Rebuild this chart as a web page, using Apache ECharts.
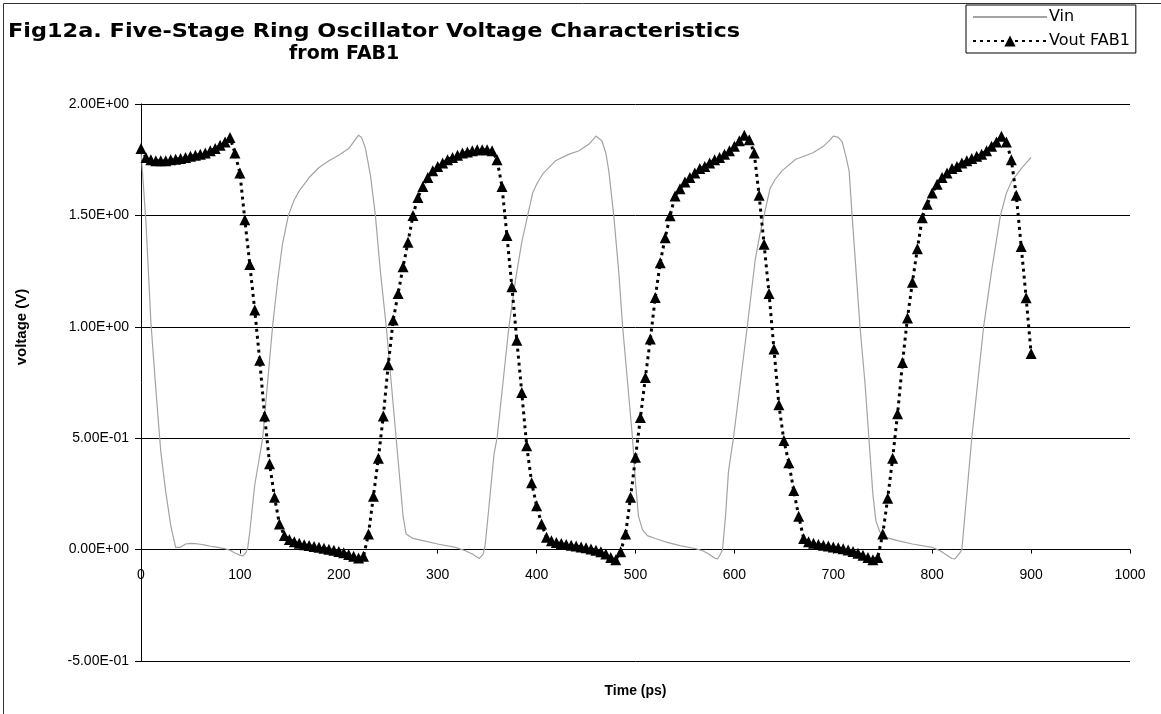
<!DOCTYPE html>
<html>
<head>
<meta charset="utf-8">
<title>Fig12a. Five-Stage Ring Oscillator Voltage Characteristics from FAB1</title>
<script src="https://cdn.jsdelivr.net/npm/echarts@6/dist/echarts.min.js"></script>
<style>
  html, body { margin: 0; padding: 0; background: #fff; }
  #chart { width: 1161px; height: 714px; }
</style>
</head>
<body>
<div id="chart"></div>
<script>
// Vin: simulated input waveform, time (ps) and voltage (V)
const vinTime = [0,5,10,15,20,25,30,35,40,45,50,55,60,65,70,75,80,85,90,95,
  100,103,106,108,110,115,120,123,128,133,138,143,149,155,160,170,180,190,200,210,
  215,220,223,227,232,237,242,248,253,258,262,265,268,275,285,300,318,328,335,342,
  346,348,352,357,360,366,372,379,385,391,396,400,406,419,433,443,453,460,466,470,
  473,478,483,487,492,497,500,503,507,512,520,530,545,560,568,574,580,583,586,588,
  591,594,599,606,613,621,626,630,636,641,648,662,679,690,697,700,705,709,713,716,
  719,723,727,732,736,740,743,747,753,765,780,800,808,813,820,823,827,830,834,840,
  846,852,860,869,875,880,890,900];
const vinVolt = [1.79,1.47,1.02,0.72,0.44,0.26,0.11,0.01,0.01,0.025,
  0.028,0.027,0.024,0.02,0.015,0.012,0.008,0.004,-0.003,-0.015,
  -0.025,-0.028,-0.015,0.01,0.08,0.29,0.42,0.5,0.75,1.0,
  1.2,1.37,1.5,1.57,1.61,1.67,1.715,1.745,1.77,1.80,
  1.83,1.86,1.85,1.80,1.68,1.5,1.25,1.0,0.75,0.5,
  0.3,0.15,0.07,0.05,0.04,0.025,0.01,-0.005,-0.02,-0.04,
  -0.02,0.02,0.2,0.43,0.5,0.75,1.0,1.22,1.38,1.5,
  1.6,1.64,1.685,1.745,1.775,1.79,1.82,1.856,1.835,1.78,
  1.70,1.5,1.25,1.0,0.75,0.5,0.3,0.15,0.09,0.063,
  0.05,0.035,0.018,0.005,-0.005,-0.02,-0.038,-0.042,-0.02,0.0,
  0.15,0.35,0.5,0.75,1.0,1.3,1.42,1.5,1.62,1.66,
  1.70,1.752,1.78,1.81,1.84,1.856,1.85,1.83,1.76,1.70,
  1.5,1.25,1.0,0.75,0.5,0.25,0.13,0.08,0.055,0.04,
  0.025,0.01,-0.005,-0.02,-0.04,-0.042,-0.02,0.0,0.2,0.5,
  0.75,1.0,1.25,1.5,1.6,1.65,1.71,1.76];

// Vout FAB1: output sampled every 5 ps from 0 to 900 ps
const voutStep = 5;
const voutVolt = [
  1.80, 1.76, 1.75, 1.745, 1.745, 1.745, 1.75, 1.752, 1.755, 1.76,
  1.765, 1.77, 1.775, 1.78, 1.79, 1.80, 1.815, 1.83, 1.85, 1.78,
  1.69, 1.48, 1.28, 1.075, 0.85, 0.60, 0.385, 0.235, 0.115, 0.063,
  0.045, 0.035, 0.028, 0.022, 0.018, 0.014, 0.010, 0.006, 0.002, -0.003,
  -0.008, -0.014, -0.022, -0.030, -0.038, -0.030, 0.07, 0.24, 0.41, 0.60,
  0.83, 1.03, 1.15, 1.27, 1.38, 1.50, 1.58, 1.63, 1.67, 1.70,
  1.72, 1.735, 1.75, 1.76, 1.77, 1.78, 1.785, 1.79, 1.795, 1.795,
  1.795, 1.79, 1.75, 1.63, 1.41, 1.18, 0.94, 0.705, 0.466, 0.30,
  0.197, 0.115, 0.055, 0.040, 0.032, 0.027, 0.023, 0.020, 0.016, 0.012,
  0.008, 0.003, -0.003, -0.010, -0.020, -0.035, -0.045, -0.010, 0.07, 0.235,
  0.414, 0.593, 0.773, 0.945, 1.131, 1.288, 1.40, 1.498, 1.587, 1.62,
  1.65, 1.67, 1.69, 1.71, 1.72, 1.735, 1.75, 1.76, 1.775, 1.79,
  1.81, 1.835, 1.86, 1.84, 1.78, 1.59, 1.37, 1.15, 0.90, 0.65,
  0.49, 0.39, 0.265, 0.15, 0.05, 0.035, 0.028, 0.023, 0.020, 0.016,
  0.012, 0.008, 0.004, -0.002, -0.008, -0.016, -0.025, -0.035, -0.045, -0.035,
  0.07, 0.23, 0.41, 0.61, 0.84, 1.04, 1.20, 1.35, 1.49, 1.55,
  1.60, 1.64, 1.67, 1.69, 1.71, 1.72, 1.735, 1.745, 1.755, 1.765,
  1.775, 1.79, 1.81, 1.83, 1.855, 1.83, 1.75, 1.59, 1.36, 1.13,
  0.88
];

// Axis ticks and their printed labels
const yTicks = [-0.5, 0, 0.5, 1.0, 1.5, 2.0];
const yTickLabels = ['-5.00E-01', '0.00E+00', '5.00E-01', '1.00E+00', '1.50E+00', '2.00E+00'];
const xTicks = [0, 100, 200, 300, 400, 500, 600, 700, 800, 900, 1000];
const xTickLabels = ['0', '100', '200', '300', '400', '500', '600', '700', '800', '900', '1000'];

const seriesNames = ['Vin', 'Vout FAB1'];
const titleLines = ['Fig12a. Five-Stage Ring Oscillator Voltage Characteristics', 'from FAB1'];
const axisNames = { x: 'Time (ps)', y: 'voltage (V)' };

const FONT = '"Liberation Sans", Arial, Helvetica, sans-serif';
const WIDE_FONT = '"DejaVu Sans", "Liberation Sans", Arial, sans-serif';

// Plot rectangle
const W = 1161, H = 714;
const GRID = { left: 141, right: 31, top: 104, bottom: 53 };
const plotH = H - GRID.top - GRID.bottom;
const yMin = yTicks[0], yMax = yTicks[yTicks.length - 1];
// The time axis sits on the 0 V line
const zeroFromBottom = plotH * (0 - yMin) / (yMax - yMin);

const vinData = vinTime.map((t, i) => [t, vinVolt[i]]);
const voutData = voutVolt.map((v, i) => [i * voutStep, v]);

function tickLabel(ticks, labels, v) {
  const idx = ticks.findIndex(t => Math.abs(t - v) < 1e-9);
  return idx >= 0 ? labels[idx] : '';
}

const chart = echarts.init(document.getElementById('chart'), null, { renderer: 'canvas', width: W, height: H });

const option = {
  animation: false,
  backgroundColor: '#ffffff',
  legend: {
    data: [
      { name: seriesNames[0], itemStyle: { opacity: 0 } },
      { name: seriesNames[1] }
    ],
    orient: 'vertical',
    left: 966,
    top: 5,
    itemWidth: 74,
    itemHeight: 14,
    itemGap: 8,
    padding: [4, 6, 4, 6],
    borderColor: '#000',
    borderWidth: 1,
    textStyle: { fontFamily: WIDE_FONT, fontSize: 16, color: '#000', padding: [0, 0, 0, -3] }
  },
  grid: { left: GRID.left, right: GRID.right, top: GRID.top, bottom: GRID.bottom,
    containLabel: false, outerBoundsMode: 'none' },
  xAxis: {
    type: 'value',
    min: xTicks[0],
    max: xTicks[xTicks.length - 1],
    interval: xTicks[1] - xTicks[0],
    offset: -zeroFromBottom,
    axisLine: { onZero: false, lineStyle: { color: '#000', width: 1 } },
    axisTick: { show: true, length: 4, lineStyle: { color: '#000' } },
    axisLabel: { margin: 19, fontFamily: FONT, fontSize: 14, color: '#000',
      formatter: (v) => tickLabel(xTicks, xTickLabels, v) },
    splitLine: { show: false },
    name: axisNames.x,
    nameLocation: 'middle',
    nameGap: 135,
    nameTextStyle: { fontFamily: FONT, fontWeight: 'bold', fontSize: 14, color: '#000' }
  },
  yAxis: {
    type: 'value',
    min: yMin,
    max: yMax,
    interval: yTicks[1] - yTicks[0],
    axisLine: { show: true, onZero: false, lineStyle: { color: '#000', width: 1 } },
    axisTick: { show: true, length: 6, lineStyle: { color: '#000' } },
    axisLabel: { margin: 12, fontFamily: FONT, fontSize: 14, color: '#000',
      formatter: (v) => tickLabel(yTicks, yTickLabels, v) },
    splitLine: { show: true, lineStyle: { color: '#000', width: 1 } }
  },
  series: [
    {
      name: seriesNames[0],
      type: 'line',
      data: vinData,
      showSymbol: false,
      symbol: 'none',
      lineStyle: { color: '#a3a3a3', width: 1.2 },
      itemStyle: { color: '#a3a3a3' },
      z: 2
    },
    {
      name: seriesNames[1],
      type: 'line',
      data: voutData,
      symbol: 'triangle',
      symbolSize: 11,
      showSymbol: true,
      lineStyle: { color: '#000', width: 3, type: [3, 4], cap: 'butt' },
      itemStyle: { color: '#000' },
      z: 3
    }
  ],
  graphic: [
    { type: 'rect', left: 1, top: 1, shape: { width: 1158, height: 711 },
      style: { fill: 'none', stroke: '#333', lineWidth: 1 }, silent: true, z: 0 },
    // two-line chart title
    { type: 'text', x: 8, y: 22, scaleX: 1.12, silent: true,
      style: { text: titleLines[0], fill: '#000',
        font: 'bold 20px ' + WIDE_FONT } },
    { type: 'text', x: 289, y: 44, scaleX: 0.95, silent: true,
      style: { text: titleLines[1], fill: '#000',
        font: 'bold 20px ' + WIDE_FONT } },
    // vertical axis title, centred over the positive voltage range
    { type: 'text', x: 22, y: 327, rotation: Math.PI / 2, silent: true,
      style: { text: axisNames.y, fill: '#000', align: 'center', verticalAlign: 'middle',
        font: 'bold 15px ' + FONT } }
  ]
};

chart.setOption(option);
</script>
</body>
</html>
